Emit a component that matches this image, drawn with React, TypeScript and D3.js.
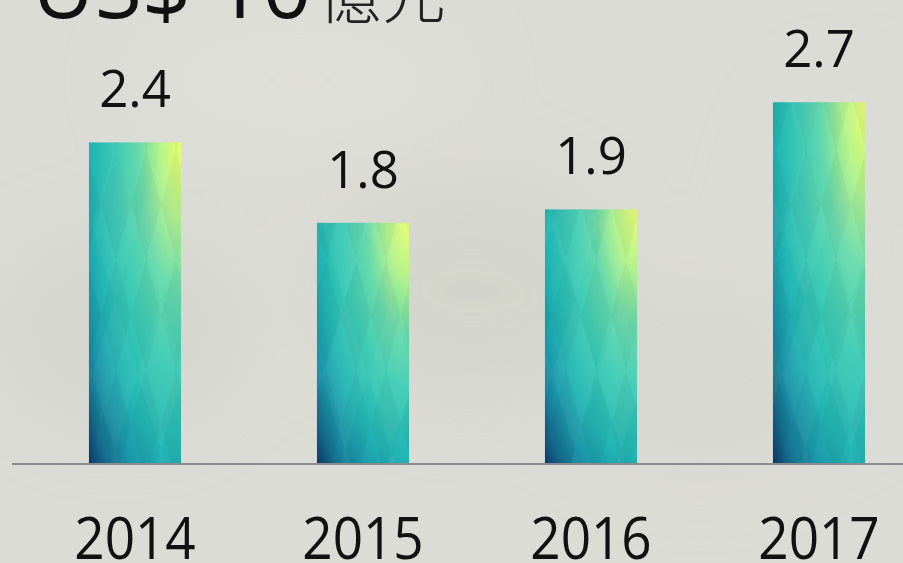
import React from "react";
import * as d3 from "d3";

const years = ["2014", "2015", "2016", "2017"];
const values = [2.4, 1.8, 1.9, 2.7];
const valueLabels = ["2.4", "1.8", "1.9", "2.7"];
const titleMain = "US$ 10";
const titleUnit = "億元";

const W = 903;
const H = 563;
const baseY = 464;

export default function App() {
  const x = d3
    .scaleBand()
    .domain(years)
    .range([21, 933])
    .paddingInner(0.596)
    .paddingOuter(0.298);

  const y = d3.scaleLinear().domain([0, 3]).range([baseY, baseY - 3 * 134]);

  return (
    <svg
      width={W}
      height={H}
      style={{ position: "absolute", left: 0, top: 0 }}
    >
      <defs>
        <filter id="blur" x="-50%" y="-50%" width="200%" height="200%">
          <feGaussianBlur stdDeviation="40" />
        </filter>
        {/* light corner at the top right, dark at the bottom left */}
        <radialGradient id="barGrad" cx="1" cy="0" fx="1" fy="0" r="1.414">
          <stop offset="0" stopColor="#e8ff6c" />
          <stop offset="0.16" stopColor="#b4f38a" />
          <stop offset="0.33" stopColor="#66d9ac" />
          <stop offset="0.5" stopColor="#3ccbb5" />
          <stop offset="0.68" stopColor="#22b6b4" />
          <stop offset="0.8" stopColor="#1a96aa" />
          <stop offset="0.9" stopColor="#15708f" />
          <stop offset="1" stopColor="#0c3a6a" />
        </radialGradient>
        <pattern id="diaA" patternUnits="userSpaceOnUse" width="46" height="150">
          <polygon points="23,0 46,75 23,150 0,75" fill="#ffffff" opacity="0.045" />
        </pattern>
        <pattern
          id="diaB"
          patternUnits="userSpaceOnUse"
          width="30"
          height="110"
          x="11"
          y="40"
        >
          <polygon points="15,0 30,55 15,110 0,55" fill="#000000" opacity="0.04" />
        </pattern>
      </defs>

      {/* blurred photo-like background */}
      <rect x={0} y={0} width={W} height={H} fill="#dcdcd6" />
      <g filter="url(#blur)" opacity={0.5}>
        <ellipse cx={120} cy={330} rx={120} ry={90} fill="#cdd0c6" />
        <ellipse cx={470} cy={290} rx={150} ry={110} fill="#ccd0c3" />
        <ellipse cx={700} cy={380} rx={130} ry={90} fill="#d2d6ca" />
        <ellipse cx={300} cy={80} rx={160} ry={60} fill="#e4e4de" />
        <ellipse cx={850} cy={250} rx={80} ry={160} fill="#d9dbd4" />
      </g>

      {/* title */}
      <text x={32} y={18} fontFamily="'Open Sans', sans-serif" fontSize={86} fill="#111">
        {titleMain}
        <tspan
          dx={6}
          fontFamily="'Noto Sans CJK TC', sans-serif"
          fontWeight={300}
          fontSize={64}
          fill="#222"
        >
          {titleUnit}
        </tspan>
      </text>

      {/* bars */}
      {years.map((yr, i) => {
        const bx = x(yr) as number;
        const by = y(values[i]);
        const bh = baseY - by;
        return (
          <g key={yr}>
            <rect x={bx} y={by} width={x.bandwidth()} height={bh} fill="url(#barGrad)" />
            <rect x={bx} y={by} width={x.bandwidth()} height={bh} fill="url(#diaA)" />
            <rect x={bx} y={by} width={x.bandwidth()} height={bh} fill="url(#diaB)" />
            <text
              x={bx + x.bandwidth() / 2}
              y={by - 35}
              textAnchor="middle"
              fontFamily="'Open Sans', sans-serif"
              fontSize={51}
              fill="#111"
            >
              {valueLabels[i]}
            </text>
          </g>
        );
      })}

      {/* axis line */}
      <line x1={12} x2={W} y1={baseY} y2={baseY} stroke="#8c8c8c" strokeWidth={2} />

      {/* year labels */}
      {years.map((yr) => {
        const cx = (x(yr) as number) + x.bandwidth() / 2;
        return (
          <text
            key={yr}
            transform={`translate(${cx},559) scale(0.9,1)`}
            textAnchor="middle"
            fontFamily="'Open Sans', sans-serif"
            fontSize={59}
            fill="#111"
          >
            {yr}
          </text>
        );
      })}
    </svg>
  );
}
